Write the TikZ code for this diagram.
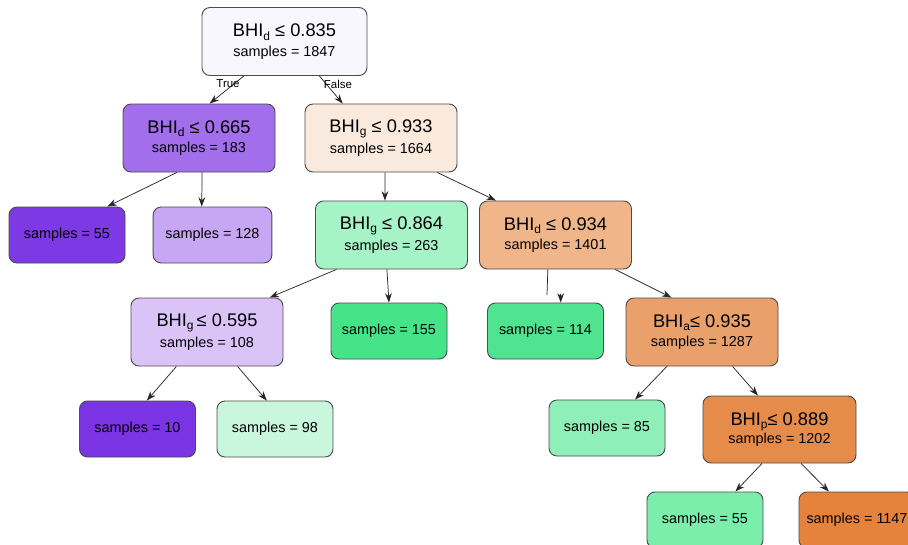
\documentclass[tikz,border=0pt]{standalone}
\usepackage{fontspec}
\setmainfont{Liberation Sans}
\usetikzlibrary{arrows.meta,calc}
\definecolor{cRoot}{HTML}{F9F7FE}
\definecolor{cL1}{HTML}{A36EEB}
\definecolor{cR1}{HTML}{FAEADE}
\definecolor{cLf55}{HTML}{7D3AE4}
\definecolor{cLf128}{HTML}{C7A7F3}
\definecolor{cN864}{HTML}{A6F3C8}
\definecolor{cN934}{HTML}{F0B68A}
\definecolor{cN595}{HTML}{DAC4F7}
\definecolor{cLf155}{HTML}{46E489}
\definecolor{cLf114}{HTML}{50E390}
\definecolor{cNa}{HTML}{EAA06B}
\definecolor{cLf10}{HTML}{7B34E4}
\definecolor{cLf98}{HTML}{C9F7DD}
\definecolor{cLf85}{HTML}{8EF0B8}
\definecolor{cNp}{HTML}{E68C4B}
\definecolor{cLf55b}{HTML}{7BEEAB}
\definecolor{cLf1147}{HTML}{E5833D}
\newcommand\sbs[1]{\raisebox{-0.35ex}{\fontsize{9}{9}\selectfont #1}}
\newcommand\tit[1]{{\fontsize{13.7}{15}\selectfont #1}}
\newcommand\smp[1]{{\fontsize{10.8}{13}\selectfont samples = #1}}
\begin{document}
\begin{tikzpicture}[x=0.75pt,y=-0.75pt,
  box/.style={draw=black!70, line width=0.7pt, rounded corners=6pt, inner sep=0pt, align=center},
  inner/.style={box, minimum width=114pt, minimum height=51pt},
  leaf/.style={box, minimum width=87pt, minimum height=42pt, font=\fontsize{10.8}{13}\selectfont},
  conn/.style={-{Stealth[length=7pt,width=5pt]}, line width=0.55pt, draw=black!85},
  plain/.style={line width=0.55pt, draw=black!85},
  lbl/.style={font=\fontsize{8.6}{10}\selectfont, inner sep=0pt}]
\useasboundingbox (0,0) rectangle (908,544);
\clip (0,0) rectangle (908,544);
\fill[white] (0,0) rectangle (908,544);

\node[inner, fill=cRoot, minimum width=123.75pt] (root) at (284.5,41.5) {\tit{BHI\sbs{d} ≤ 0.835}\\[2.5pt]\smp{1847}};
\node[inner, fill=cL1] (left1) at (199,138) {\tit{BHI\sbs{d} ≤ 0.665}\\[2.5pt]\smp{183}};
\node[inner, fill=cR1] (right1) at (381,138) {\tit{BHI\sbs{g} ≤ 0.933}\\[2.5pt]\smp{1664}};
\node[leaf, fill=cLf55] (l55) at (67,235) {samples = 55};
\node[leaf, fill=cLf128, minimum width=89pt] (l128) at (212.5,235) {samples = 128};
\node[inner, fill=cN864] (n864) at (391.5,235) {\tit{BHI\sbs{g} ≤ 0.864}\\[2.5pt]\smp{263}};
\node[inner, fill=cN934] (n934) at (555.5,235) {\tit{BHI\sbs{d} ≤ 0.934}\\[2.5pt]\smp{1401}};
\node[inner, fill=cN595] (n595) at (207,332) {\tit{BHI\sbs{g}\,≤ 0.595}\\[2.5pt]\smp{108}};
\node[leaf, fill=cLf155] (l155) at (389,331) {samples = 155};
\node[leaf, fill=cLf114] (l114) at (545.5,331) {samples = 114};
\node[inner, fill=cNa] (na) at (702,332) {\tit{BHI\sbs{a}≤ 0.935}\\[2.5pt]\smp{1287}};
\node[leaf, fill=cLf10] (l10) at (137.5,429) {samples = 10};
\node[leaf, fill=cLf98] (l98) at (275,429) {samples = 98};
\node[leaf, fill=cLf85] (l85) at (607,428) {samples = 85};
\node[inner, fill=cNp, minimum width=114.75pt, minimum height=50.25pt] (np) at (779.5,429.5) {\tit{BHI\sbs{p}≤ 0.889}\\[0.5pt]\smp{1202}};
\node[leaf, fill=cLf55b] (l55b) at (705,520) {samples = 55};
\node[leaf, fill=cLf1147] (l1147) at (857,520) {samples = 1147};

\draw[conn] ($(root.south west)!0.255!(root.south east)$) -- ($(left1.north west)!0.57!(left1.north east)$);
\draw[conn] ($(root.south west)!0.71!(root.south east)$) -- ($(right1.north west)!0.25!(right1.north east)$);
\node[lbl] (ltrue) at (228,84) {True};
\node[lbl] (lfalse) at (338,84) {False};

\draw[conn] ($(left1.south west)!0.355!(left1.south east)$) -- ($(l55.north west)!0.845!(l55.north east)$);
\draw[conn] ($(left1.south west)!0.52!(left1.south east)$) -- ($(l128.north west)!0.41!(l128.north east)$);
\draw[conn] ($(right1.south west)!0.526!(right1.south east)$) -- ($(n864.north west)!0.457!(n864.north east)$);
\draw[conn] ($(right1.south west)!0.868!(right1.south east)$) -- ($(n934.north west)!0.11!(n934.north east)$);
\draw[conn] ($(n864.south west)!0.14!(n864.south east)$) -- ($(n595.north west)!0.91!(n595.north east)$);
\draw[conn] ($(n864.south west)!0.47!(n864.south east)$) -- ($(l155.north west)!0.5!(l155.north east)$);
\coordinate (k114) at (547,295);
\draw[plain] ($(n934.south west)!0.45!(n934.south east)$) -- (k114);
\draw[conn] ($(l114.north west)!0.63!(l114.north east)$) ++(0,-9) -- ++(0,9);
\draw[conn] ($(n934.south west)!0.89!(n934.south east)$) -- ($(na.north west)!0.30!(na.north east)$);
\draw[conn] ($(n595.south west)!0.30!(n595.south east)$) -- ($(l10.north west)!0.58!(l10.north east)$);
\draw[conn] ($(n595.south west)!0.70!(n595.south east)$) -- ($(l98.north west)!0.43!(l98.north east)$);
\draw[conn] ($(na.south west)!0.27!(na.south east)$) -- ($(l85.north west)!0.74!(l85.north east)$);
\draw[conn] ($(na.south west)!0.70!(na.south east)$) -- ($(np.north west)!0.36!(np.north east)$);
\draw[conn] ($(np.south west)!0.386!(np.south east)$) -- ($(l55b.north west)!0.76!(l55b.north east)$);
\draw[conn] ($(np.south west)!0.64!(np.south east)$) -- ($(l1147.north west)!0.26!(l1147.north east)$);
\end{tikzpicture}
\end{document}
